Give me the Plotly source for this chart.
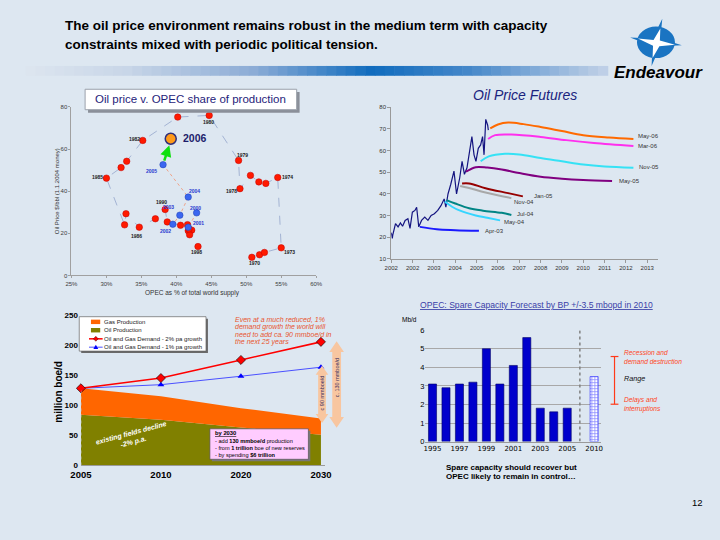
import plotly.graph_objects as go

W, H = 720, 540
BG = "#dde7f1"
FONT = "Liberation Sans, Arial, sans-serif"

# ---------------- Chart 1: Oil price v. OPEC share of production ----------------
hist_years = list(range(1970, 1999))
hist_share = [50.8, 51.9, 52.6, 55.0, 54.5, 52.8, 51.8, 50.6, 49.1, 48.9, 44.7, 40.2, 35.2, 32.9,
              32.1, 30.0, 32.6, 32.8, 34.7, 37.0, 38.4, 38.7, 40.6, 41.6, 41.7, 42.2, 41.9, 41.8, 43.1]
hist_price = [8.6, 9.8, 10.9, 13.1, 46.5, 43.7, 44.4, 47.5, 41.2, 54.6, 76.0, 75.2, 64.1, 54.2,
              51.2, 46.2, 24.0, 29.3, 22.9, 26.9, 31.3, 25.4, 23.8, 24.1, 21.2, 21.5, 19.3, 22.0, 13.7]
recent_years = [2000, 2001, 2002, 2003, 2004, 2005]
recent_share = [42.9, 41.7, 39.5, 40.5, 41.7, 38.1]
recent_price = [29.7, 22.9, 24.3, 28.6, 37.2, 52.6]
share_2006 = [39.2]
price_2006 = [64.9]
share_ticks = [25, 30, 35, 40, 45, 50, 55, 60]
share_ticktext = ["25%", "30%", "35%", "40%", "45%", "50%", "55%", "60%"]

# ---------------- Chart 2: Oil price futures ----------------
spot_t = [2001.0, 2001.05, 2001.07, 2001.2, 2001.32, 2001.43, 2001.53, 2001.65, 2001.78, 2001.88,
          2001.99, 2002.11, 2002.19, 2002.29, 2002.42, 2002.57, 2002.72, 2002.87, 2003.02, 2003.18,
          2003.33, 2003.48, 2003.56, 2003.66, 2003.79, 2003.94, 2004.06, 2004.21, 2004.32, 2004.43,
          2004.55, 2004.67, 2004.78, 2004.88, 2004.97, 2005.08, 2005.19, 2005.28, 2005.35, 2005.43,
          2005.52, 2005.55]
spot_p = [22.0, 19.4, 20.9, 26.2, 24.7, 26.5, 25.0, 27.7, 28.5, 24.0, 31.5, 32.3, 33.8, 24.7,
          27.7, 29.2, 27.7, 30.0, 30.8, 32.3, 34.5, 37.6, 33.8, 39.9, 44.4, 50.5, 39.9, 47.4, 55.0,
          49.0, 52.0, 59.5, 66.4, 58.0, 55.0, 61.0, 62.6, 66.4, 58.0, 74.4, 71.7, 69.4]
may06_t = [2005.64, 2006.0, 2006.48, 2007.2, 2008.0, 2009.0, 2010.0, 2011.2, 2012.35]
may06_p = [70.2, 72.0, 72.9, 72.2, 70.9, 69.0, 67.1, 66.0, 65.3]
mar06_t = [2005.54, 2005.87, 2006.63, 2008.0, 2009.2, 2010.5, 2012.35]
mar06_p = [65.3, 67.1, 67.4, 66.3, 64.8, 63.5, 62.1]
nov05_t = [2005.19, 2005.57, 2006.33, 2007.0, 2008.0, 2009.0, 2010.0, 2011.0, 2012.35]
nov05_p = [55.0, 57.3, 58.5, 58.2, 56.5, 55.0, 53.5, 52.6, 52.0]
may05_t = [2004.5, 2004.96, 2005.5, 2006.18, 2007.0, 2008.0, 2009.0, 2010.0, 2011.35]
may05_p = [50.2, 52.3, 52.1, 51.2, 49.6, 47.9, 47.0, 46.4, 45.9]
jan05_t = [2004.32, 2004.65, 2005.42, 2006.48, 2007.17]
jan05_p = [44.8, 44.8, 42.6, 40.3, 38.8]
nov04_t = [2004.23, 2004.6, 2005.42, 2006.63]
nov04_p = [43.6, 42.8, 40.6, 38.0]
jul04_t = [2003.59, 2004.0, 2004.65, 2005.3, 2006.18, 2006.63]
jul04_p = [37.1, 35.5, 33.3, 32.2, 31.2, 30.2]
may04_t = [2003.51, 2003.85, 2004.2, 2004.96, 2005.5, 2006.1]
may04_p = [36.4, 34.0, 32.3, 30.0, 28.9, 27.7]
apr03_t = [2002.34, 2003.13, 2004.0, 2005.11]
apr03_p = [24.7, 23.6, 23.2, 22.9]
fut_ticks = [2001, 2002, 2003, 2004, 2005, 2006, 2007, 2008, 2009, 2010, 2011, 2012, 2013]
fut_ticktext = ["2002", "2002", "2003", "2004", "2005", "2006", "2007", "2008", "2009", "2010",
                "2011", "2012", "2013"]

# ---------------- Chart 3: supply / demand ----------------
periods = ["2005", "2010", "2020", "2030"]
oil_prod = [84, 76, 63, 51]
gas_prod = [44, 39, 32, 27]
demand_2pct = [128, 145, 175, 205]
demand_1pct = [128, 134, 148, 163]

# ---------------- Chart 4: OPEC spare capacity ----------------
spare_years = ["1995", "1996", "1997", "1998", "1999", "2000", "2001", "2002", "2003", "2004", "2005"]
spare_cap = [3.1, 2.9, 3.1, 3.2, 5.0, 3.1, 4.1, 5.6, 1.8, 1.6, 1.8]
forecast_year = "2010"
forecast_cap = [3.5]


def X(px):
    return px / W


def Y(py):
    return 1 - py / H


def path(points):
    s = "M " + " L ".join(f"{X(a):.5f},{Y(b):.5f}" for a, b in points) + " Z"
    return s


fig = go.Figure()

# ---- chart 1 traces
fig.add_trace(go.Scatter(x=hist_share, y=hist_price, mode="lines", xaxis="x", yaxis="y",
                         line=dict(color="#a3b3d3", width=1, dash="dash")))
fig.add_trace(go.Scatter(x=recent_share, y=recent_price, mode="lines", xaxis="x", yaxis="y",
                         line=dict(color="#eea48a", width=1, dash="dot")))
fig.add_trace(go.Scatter(x=hist_share, y=hist_price, mode="markers", xaxis="x", yaxis="y",
                         marker=dict(color="#ff1a00", size=6.5, line=dict(color="#c00000", width=0.5))))
fig.add_trace(go.Scatter(x=recent_share, y=recent_price, mode="markers", xaxis="x", yaxis="y",
                         marker=dict(color="#3a66f0", size=6.5, line=dict(color="#2040b0", width=0.5))))
fig.add_trace(go.Scatter(x=share_2006, y=price_2006, mode="markers", xaxis="x", yaxis="y",
                         marker=dict(color="#ff9a1a", size=11, line=dict(color="#30307a", width=1.5))))

# ---- chart 2 traces
fig.add_trace(go.Scatter(x=spot_t, y=spot_p, mode="lines", xaxis="x2", yaxis="y2",
                         line=dict(color="#141480", width=1.2)))
futures = [
    (may06_t, may06_p, "#ff6a00"), (mar06_t, mar06_p, "#ff30ee"), (nov05_t, nov05_p, "#35e2f5"),
    (may05_t, may05_p, "#800080"), (jan05_t, jan05_p, "#960000"), (nov04_t, nov04_p, "#a8a8a8"),
    (jul04_t, jul04_p, "#008585"), (may04_t, may04_p, "#35d5ff"), (apr03_t, apr03_p, "#1a1aff"),
]
for t, p, c in futures:
    fig.add_trace(go.Scatter(x=t, y=p, mode="lines", xaxis="x2", yaxis="y2", line_shape="spline",
                             line=dict(color=c, width=2)))

# ---- chart 3 traces
fig.add_trace(go.Scatter(x=periods, y=oil_prod, mode="lines", stackgroup="s", xaxis="x3", yaxis="y3",
                         line=dict(width=0, color="#808000"), fillcolor="#808000"))
fig.add_trace(go.Scatter(x=periods, y=gas_prod, mode="lines", stackgroup="s", xaxis="x3", yaxis="y3",
                         line=dict(width=0, color="#ff6600"), fillcolor="#ff6600"))
fig.add_trace(go.Scatter(x=periods, y=demand_1pct, mode="lines+markers", xaxis="x3", yaxis="y3",
                         line=dict(color="#4a50ff", width=1),
                         marker=dict(symbol="triangle-up", size=6, color="#0000ff")))
fig.add_trace(go.Scatter(x=periods, y=demand_2pct, mode="lines+markers", xaxis="x3", yaxis="y3",
                         line=dict(color="#ff0000", width=1.6),
                         marker=dict(symbol="diamond", size=7, color="#ff0000",
                                     line=dict(color="#000000", width=0.6))))

# ---- chart 4 traces
bar_pos = list(range(len(spare_years)))
forecast_pos = [len(spare_years) + 1]
fig.add_trace(go.Bar(x=bar_pos, y=spare_cap, xaxis="x4", yaxis="y4", width=0.6,
                     marker=dict(color="#0000cc", line=dict(color="#000066", width=0.6))))
fig.add_trace(go.Bar(x=forecast_pos, y=forecast_cap, xaxis="x4", yaxis="y4", width=0.6,
                     marker=dict(color="white", line=dict(color="#2020ff", width=0.6),
                                 pattern=dict(shape="+", fgcolor="#1a1aff", bgcolor="white",
                                              size=3, solidity=0.45))))

for tr in fig.data:
    tr.update(showlegend=False, hoverinfo="skip")
    if isinstance(tr, go.Scatter):
        tr.update(cliponaxis=False)

axfont = dict(family=FONT, size=6, color="#404040")
fig.update_layout(
    width=W, height=H, margin=dict(l=0, r=0, t=0, b=0),
    paper_bgcolor=BG, plot_bgcolor="rgba(0,0,0,0)", hovermode=False,
    font=dict(family=FONT), barmode="overlay",
    xaxis=dict(domain=[X(62), X(313)], range=[25, 60], tickvals=share_ticks, ticktext=share_ticktext,
               anchor="y", showline=True, linecolor="#a0a0a0", linewidth=1,
               ticks="outside", ticklen=2, tickcolor="#a0a0a0", showgrid=False, zeroline=False,
               tickfont=axfont),
    yaxis=dict(domain=[Y(276), Y(104.7)], range=[0, 80], dtick=20, anchor="x", showline=True,
               linecolor="#a0a0a0", ticks="outside", ticklen=2, tickcolor="#a0a0a0",
               showgrid=False, zeroline=False, tickfont=axfont),
    xaxis2=dict(domain=[X(390), X(663.3)], range=[2001, 2013.49], tickvals=fut_ticks,
                ticktext=fut_ticktext, anchor="y2", showline=True, linecolor="#999999",
                ticks="outside", ticklen=3, tickcolor="#999999", showgrid=False, zeroline=False,
                tickfont=dict(family=FONT, size=6, color="#333333")),
    yaxis2=dict(domain=[Y(259), Y(105)], range=[10, 80], dtick=10, anchor="x2", showline=True,
                linecolor="#999999", ticks="outside", ticklen=3, tickcolor="#999999",
                showgrid=False, zeroline=False, tickfont=dict(family=FONT, size=6, color="#333333")),
    xaxis3=dict(domain=[X(71.7), X(322)], type="category", range=[0, 3.05], anchor="y3",
                showline=True, linecolor="#9a9a9a", ticks="", showgrid=False, zeroline=False,
                tickfont=dict(family=FONT, size=9.5, color="#000000", weight="bold")),
    yaxis3=dict(domain=[Y(469.3), Y(316)], range=[0, 250], dtick=50, anchor="x3", showline=False,
                showgrid=False, zeroline=False, ticklabelstandoff=2,
                tickfont=dict(family=FONT, size=8, color="#000000", weight="bold")),
    xaxis4=dict(domain=[X(425), X(605)], range=[-0.53, 12.5], anchor="y4",
                tickvals=[0, 2, 4, 6, 8, 10, 12],
                ticktext=spare_years[0::2] + [forecast_year], showline=True, linecolor="#9a9a9a",
                ticks="", showgrid=False, zeroline=False,
                tickfont=dict(family="DejaVu Sans, Verdana", size=7, color="#000000")),
    yaxis4=dict(domain=[Y(445), Y(331.7)], range=[0, 6], dtick=1, anchor="x4", showline=False,
                showgrid=True, gridcolor="#a8a8a8", gridwidth=1, zeroline=False,
                tickfont=dict(family=FONT, size=7.5, color="#000000")),
)

shapes = []
# header gradient bar
stops = [(15, (222, 230, 240)), (120, (200, 214, 232)), (250, (140, 172, 214)), (370, (16, 108, 190)),
         (470, (70, 136, 202)), (612, (195, 210, 232))]
n = 60
for i in range(n):
    x0 = 15 + (612 - 15) * i / n
    x1 = 15 + (612 - 15) * (i + 1) / n + 0.6
    xm = (x0 + x1) / 2
    for j in range(len(stops) - 1):
        if stops[j][0] <= xm <= stops[j + 1][0]:
            f = (xm - stops[j][0]) / (stops[j + 1][0] - stops[j][0])
            c = tuple(int(stops[j][1][k] + f * (stops[j + 1][1][k] - stops[j][1][k])) for k in range(3))
            break
    shapes.append(dict(type="rect", xref="paper", yref="paper", x0=X(x0), x1=X(x1), y0=Y(73), y1=Y(63),
                       fillcolor=f"rgb{c}", line=dict(width=0), layer="below"))

# logo (compass)
shapes.append(dict(type="path", xref="paper", yref="paper",
                   path=path([(668, 15), (666, 35), (688, 42), (666, 43), (657, 63), (658, 43), (635, 34), (658, 35)]),
                   fillcolor="#1a74c2", line=dict(width=0)))
shapes.append(dict(type="circle", xref="paper", yref="paper", x0=X(642), x1=X(681), y0=Y(55), y1=Y(23),
                   fillcolor="#1a74c2", line=dict(width=0)))
shapes.append(dict(type="path", xref="paper", yref="paper",
                   path=path([(666, 25), (665.5, 37), (681, 41.5), (665, 43), (658, 55), (658.5, 42.5), (643, 35), (659, 36.5)]),
                   fillcolor="white", line=dict(width=0)))

# chart 1 title box with shadow
shapes.append(dict(type="rect", xref="paper", yref="paper", x0=X(79), x1=X(296), y0=Y(110.5), y1=Y(89.5),
                   fillcolor="#8a8f99", line=dict(width=0)))
shapes.append(dict(type="rect", xref="paper", yref="paper", x0=X(76), x1=X(293), y0=Y(107.5), y1=Y(86.7),
                   fillcolor="white", line=dict(color="#9aa0aa", width=1)))

# chart 3 legend box
shapes.append(dict(type="rect", xref="paper", yref="paper", x0=X(72), x1=X(202), y0=Y(355), y1=Y(320),
                   fillcolor="#6a6a6a", line=dict(width=0)))
shapes.append(dict(type="rect", xref="paper", yref="paper", x0=X(70), x1=X(200), y0=Y(353), y1=Y(318),
                   fillcolor="white", line=dict(color="#666666", width=0.7)))
shapes.append(dict(type="rect", xref="paper", yref="paper", x0=X(82), x1=X(91.5), y0=Y(325.5), y1=Y(321),
                   fillcolor="#ff6600", line=dict(width=0)))
shapes.append(dict(type="rect", xref="paper", yref="paper", x0=X(82), x1=X(91.5), y0=Y(334), y1=Y(329.5),
                   fillcolor="#808000", line=dict(width=0)))
shapes.append(dict(type="line", xref="paper", yref="paper", x0=X(80), x1=X(94), y0=Y(340.5), y1=Y(340.5),
                   line=dict(color="#ff0000", width=1.5)))
shapes.append(dict(type="path", xref="paper", yref="paper",
                   path=path([(87, 338), (89.5, 340.5), (87, 343), (84.5, 340.5)]),
                   fillcolor="#ff0000", line=dict(color="#000", width=0.4)))
shapes.append(dict(type="line", xref="paper", yref="paper", x0=X(80), x1=X(94), y0=Y(349), y1=Y(349),
                   line=dict(color="#4a50ff", width=1)))
shapes.append(dict(type="path", xref="paper", yref="paper",
                   path=path([(87, 346.5), (89.5, 350.8), (84.5, 350.8)]),
                   fillcolor="#0000ff", line=dict(width=0)))

# dotted left edge of the area chart
shapes.append(dict(type="line", xref="x3", yref="y3", x0=0, x1=0, y0=0, y1=demand_2pct[0],
                   line=dict(color="#b8b8b8", width=1, dash="dot")))

# pink box
shapes.append(dict(type="rect", xref="paper", yref="paper", x0=X(206), x1=X(307), y0=Y(465), y1=Y(434),
                   fillcolor="#777777", line=dict(width=0)))
shapes.append(dict(type="rect", xref="paper", yref="paper", x0=X(204), x1=X(305), y0=Y(463), y1=Y(432),
                   fillcolor="#ffccff", line=dict(color="#555555", width=0.7)))


def dbl_arrow(cx, top, bot, hw, sw, hl):
    return path([(cx, top), (cx + hw, top + hl), (cx + sw, top + hl), (cx + sw, bot - hl), (cx + hw, bot - hl),
                 (cx, bot), (cx - hw, bot - hl), (cx - sw, bot - hl), (cx - sw, top + hl), (cx - hw, top + hl)])


shapes.append(dict(type="path", xref="paper", yref="paper", path=dbl_arrow(319, 368, 426, 6.5, 4, 9),
                   fillcolor="#f8c6a0", line=dict(width=0)))
shapes.append(dict(type="path", xref="paper", yref="paper", path=dbl_arrow(334, 343, 431, 7.5, 4.5, 11),
                   fillcolor="#f8c6a0", line=dict(width=0)))

# bar chart: dotted separator + range bracket
shapes.append(dict(type="line", xref="x4", yref="y4", x0=10.94, x1=10.94, y0=0, y1=6.05,
                   line=dict(color="#808080", width=1.5, dash="dot")))
shapes.append(dict(type="line", xref="paper", yref="paper", x0=X(619), x1=X(619), y0=Y(407), y1=Y(358.5),
                   line=dict(color="#ff3a1a", width=1.2)))
shapes.append(dict(type="line", xref="paper", yref="paper", x0=X(615), x1=X(623), y0=Y(358.5), y1=Y(358.5),
                   line=dict(color="#ff3a1a", width=1.2)))
shapes.append(dict(type="line", xref="paper", yref="paper", x0=X(615), x1=X(623), y0=Y(407), y1=Y(407),
                   line=dict(color="#ff3a1a", width=1.2)))

ann = []


def txt(x, y, s, size, color="#000000", bold=False, italic=False, xanchor="left", angle=0,
        family=FONT, align="left", yanchor="middle"):
    f = dict(family=family, size=size, color=color)
    if bold:
        f["weight"] = "bold"
    if italic:
        f["style"] = "italic"
    ann.append(dict(x=X(x), y=Y(y), xref="paper", yref="paper", text=s, showarrow=False, font=f,
                    xanchor=xanchor, yanchor=yanchor, textangle=angle, align=align))


# header
txt(53, 22, "The oil price environment remains robust in the medium term with capacity", 13.5, bold=True)
txt(53, 41, "constraints mixed with periodic political tension.", 13.5, bold=True)
txt(664, 70, "Endeavour", 17, bold=True, italic=True, xanchor="center")
txt(712, 507, "12", 9.5, xanchor="right")

# chart 1 texts
txt(184.5, 97, "Oil price v. OPEC share of production", 11.5, color="#1f237a", xanchor="center")
txt(186.5, 293.5, "OPEC as % of total world supply", 6.5, color="#333333", xanchor="center")
txt(46.5, 190, "Oil Price $/bbl (1.1.2004 money)", 6, color="#333333", xanchor="center", angle=-90)
year_labels = [("1980", 44.65, 72.8), ("1982", 34.0, 64.7), ("1985", 28.7, 46.8), ("1979", 49.46, 57.4),
               ("1974", 55.9, 46.8), ("1978", 47.9, 40.0), ("1990", 37.9, 34.7), ("1986", 34.3, 18.5),
               ("1998", 42.9, 11.1), ("1973", 56.2, 10.9), ("1970", 51.2, 5.9)]
for s, a, b in year_labels:
    ann.append(dict(x=a, y=b, xref="x", yref="y", text=s, showarrow=False,
                    font=dict(family=FONT, size=5, color="#1a1a1a", weight="bold")))
recent_labels = [("2005", 36.4, 49.8), ("2004", 42.6, 40.2), ("2003", 38.9, 32.7), ("2000", 42.7, 32.2),
                 ("2001", 43.2, 25.1), ("2002", 38.45, 21.3)]
for s, a, b in recent_labels:
    ann.append(dict(x=a, y=b, xref="x", yref="y", text=s, showarrow=False,
                    font=dict(family=FONT, size=5, color="#2a3ad0", weight="bold")))
ann.append(dict(x=42.6, y=65.2, xref="x", yref="y", text="2006", showarrow=False,
                font=dict(family=FONT, size=10.5, color="#1c1c6b", weight="bold")))
ann.append(dict(x=39.0, y=61.8, ax=38.2, ay=53.8, xref="x", yref="y", axref="x", ayref="y", text="",
                showarrow=True, arrowhead=2, arrowsize=0.9, arrowwidth=2.5, arrowcolor="#10e010"))

# chart 2 texts
txt(527, 93, "Oil Price Futures", 14, color="#1a237e", italic=True, xanchor="center")
fut_labels = [("May-06", 2012.50, 66.7), ("Mar-06", 2012.50, 62.1), ("Nov-05", 2012.56, 52.3),
              ("May-05", 2011.62, 45.9), ("Jan-05", 2007.66, 38.9), ("Nov-04", 2006.70, 36.3),
              ("Jul-04", 2006.84, 30.5), ("May-04", 2006.26, 26.8), ("Apr-03", 2005.34, 22.7)]
for s, a, b in fut_labels:
    ann.append(dict(x=a, y=b, xref="x2", yref="y2", text=s, showarrow=False, xanchor="left",
                    borderpad=0, font=dict(family=FONT, size=6, color="#333333")))

# chart 3 texts
txt(48.5, 394, "million boe/d", 10, bold=True, xanchor="center", angle=-90)
txt(93.5, 323.3, "Gas Production", 6, color="#222")
txt(93.5, 332, "Oil Production", 6, color="#222")
txt(93.5, 340.7, "Oil and Gas Demand - 2% pa growth", 6, color="#222")
txt(93.5, 349.3, "Oil and Gas Demand - 1% pa growth", 6, color="#222")
red_it = "#e8552e"
for i, s in enumerate(["Even at a much reduced, 1%", "demand growth the world will",
                       "need to add ca. 90 mmboe/d in", "the next 25 years"]):
    txt(228, 321 + i * 7.6, s, 7, color=red_it, italic=True)
txt(125, 441, "existing fields decline<br>-2% p.a.", 7, color="white", bold=True, italic=True,
    xanchor="center", angle=-15, align="center")
txt(207, 436, "<u>by 2030</u>", 5.8, bold=True)
txt(207, 444, "- add <b>130 mmboe/d</b> production", 5.6)
txt(207, 451.3, "- from <b>1 trillion</b> boe of new reserves", 5.6)
txt(207, 458.5, "- by spending <b>$6 trillion</b>", 5.6)
txt(319, 396, "c 90 mmboe/d", 5.5, color="#3b3160", xanchor="center", angle=-90)
txt(334, 380, "c. 130 mmboe/d", 5.5, color="#3b3160", xanchor="center", angle=-90)

# chart 4 texts
txt(539, 306, "<u>OPEC: Spare Capacity Forecast by BP +/-3.5 mbopd in 2010</u>", 8.6, color="#3a40a8",
    xanchor="center")
txt(409, 321, "Mb/d", 6.5, xanchor="center")
txt(627, 359, "Recession and<br>demand destruction", 6.6, color="#ff4422", italic=True)
txt(627, 381, "Range", 7.2, color="#111111", italic=True)
txt(627, 407, "Delays and<br>interruptions", 6.6, color="#ff4422", italic=True)
txt(513, 471, "Spare capacity should recover but", 8, bold=True, xanchor="center")
txt(513, 480, "OPEC likely to remain in control…", 8, bold=True, xanchor="center")

fig.update_layout(shapes=shapes, annotations=ann)
fig.write_html("out.html", config={"displayModeBar": False, "staticPlot": True},
               post_script="document.body.style.margin='0px';document.body.style.overflow='hidden';")
